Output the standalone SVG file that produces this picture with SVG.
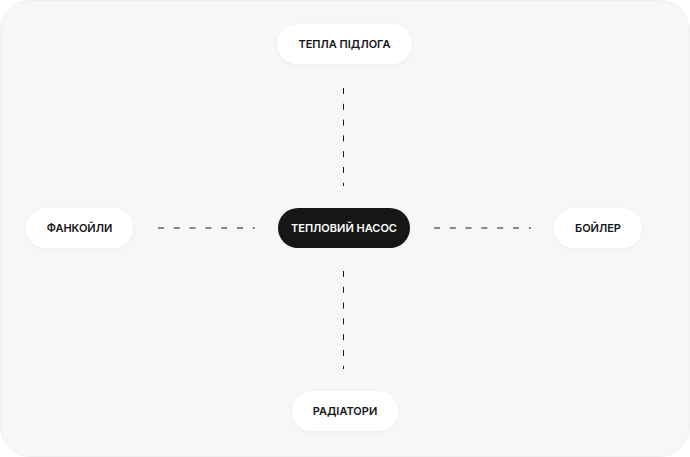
<svg xmlns="http://www.w3.org/2000/svg" width="690" height="457" viewBox="0 0 690 457">
<defs>
<filter id="sh" x="-20%" y="-40%" width="140%" height="180%">
<feDropShadow dx="0" dy="1" stdDeviation="2" flood-color="#000" flood-opacity="0.05"/>
</filter>
<style>
.node{fill:#ffffff;filter:url(#sh)}
.dark{fill:#161616}
.lbl{font-family:Inter,"Noto Sans",sans-serif;font-size:11px;font-weight:600;fill:#161616;text-anchor:middle;dominant-baseline:central}
.lbl.inv{fill:#ffffff}
.con{stroke:#1a1a1a;stroke-width:1;stroke-dasharray:6 9.8;fill:none}
</style>
</defs>
<rect x="0.5" y="0.5" width="689" height="456" rx="30" fill="#f7f7f7" stroke="#efefef"/>
<g id="connectors">
<line class="con" x1="343.5" y1="88" x2="343.5" y2="186"/>
<line class="con" x1="343.5" y1="271" x2="343.5" y2="369"/>
<line class="con" x1="158" y1="228" x2="255" y2="228"/>
<line class="con" x1="434" y1="228" x2="531" y2="228"/>
</g>
<g id="heat-pump">
<rect class="dark" x="278" y="208" width="132" height="40" rx="20"/>
<text class="lbl inv" x="344" y="228">ТЕПЛОВИЙ НАСОС</text>
</g>
<g id="floor-heating">
<rect class="node" x="277" y="24" width="135" height="40" rx="20"/>
<text class="lbl" x="344.5" y="44">ТЕПЛА ПІДЛОГА</text>
</g>
<g id="fan-coils">
<rect class="node" x="26" y="208" width="107" height="40" rx="20"/>
<text class="lbl" x="79.5" y="228">ФАНКОЙЛИ</text>
</g>
<g id="boiler">
<rect class="node" x="554" y="208" width="88" height="40" rx="20"/>
<text class="lbl" x="598" y="228">БОЙЛЕР</text>
</g>
<g id="radiators">
<rect class="node" x="292" y="391" width="106" height="40" rx="20"/>
<text class="lbl" x="345" y="411">РАДІАТОРИ</text>
</g>
</svg>
